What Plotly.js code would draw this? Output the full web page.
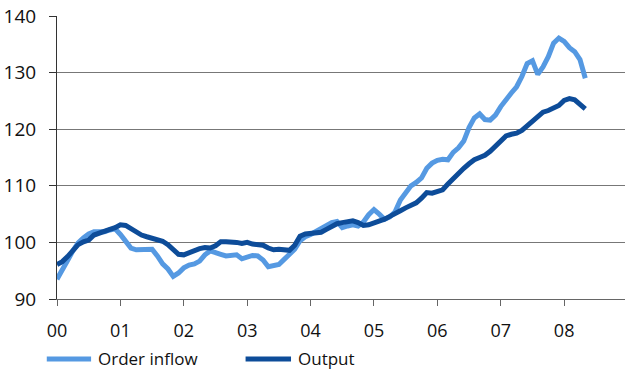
<!DOCTYPE html>
<html>
<head>
<meta charset="utf-8">
<script src="https://cdn.plot.ly/plotly-3.0.1.min.js"></script>
<style>
  html, body { margin: 0; padding: 0; background: #fff; }
  #chart { width: 625px; height: 376px; }
</style>
</head>
<body>
<div id="chart"></div>
<script>
// Monthly index values, January 2000 to May 2008
const startYear = 2000;
const orderInflow = [
  93.5, 95.0, 96.8, 98.5, 99.9, 100.8, 101.5, 101.9, 101.8, 101.9, 102.2, 102.4,
  101.4, 100.3, 99.0, 98.7, 98.7, 98.8, 98.8, 97.6, 96.2, 95.3, 94.0, 94.6,
  95.5, 96.0, 96.2, 96.7, 97.8, 98.5, 98.3, 97.9, 97.6, 97.6, 97.8, 97.1,
  97.5, 97.7, 97.6, 96.9, 95.7, 96.0, 96.1, 97.0, 97.8, 98.8, 100.3, 101.0,
  101.4, 101.9, 102.5, 103.1, 103.5, 103.7, 102.6, 102.9, 103.1, 102.9, 103.6, 104.9,
  105.8, 105.0, 104.1, 104.5, 105.4, 107.5, 108.8, 110.0, 110.6, 111.4, 113.1, 114.0,
  114.5, 114.7, 114.6, 115.9, 116.7, 117.9, 120.3, 122.0, 122.7, 121.7, 121.6, 122.5,
  124.0, 125.3, 126.4, 127.5, 129.3, 131.6, 132.1, 129.7, 131.0, 132.8, 135.2, 136.1,
  135.5, 134.4, 133.7, 132.3, 129.0
];
const output = [
  96.1, 96.6, 97.5, 98.7, 99.6, 100.1, 100.4, 101.3, 101.7, 101.9, 102.3, 102.6,
  103.1, 103.0, 102.4, 101.8, 101.3, 101.0, 100.7, 100.5, 100.2, 99.6, 98.6, 97.9,
  97.8, 98.2, 98.6, 98.9, 99.1, 99.0, 99.4, 100.1, 100.1, 100.1, 100.0, 99.8,
  100.0, 99.7, 99.7, 99.5, 99.0, 98.7, 98.8, 98.7, 98.6, 99.5, 101.1, 101.5,
  101.6, 101.5, 101.8, 102.3, 102.8, 103.3, 103.5, 103.6, 103.8, 103.5, 103.0, 103.1,
  103.4, 103.8, 104.1, 104.6, 105.0, 105.6, 106.1, 106.6, 107.0, 107.8, 108.8, 108.7,
  108.9, 109.3, 110.3, 111.3, 112.2, 113.1, 113.9, 114.6, 115.0, 115.4, 116.1, 117.1,
  118.0, 118.8, 119.1, 119.3, 119.8, 120.6, 121.4, 122.2, 123.0, 123.3, 123.7, 124.2,
  125.1, 125.4, 125.2, 124.5, 123.6
];
const tickYears = [2000, 2001, 2002, 2003, 2004, 2005, 2006, 2007, 2008];
const tickLabels = ['00', '01', '02', '03', '04', '05', '06', '07', '08'];
const seriesNames = ['Order inflow', 'Output'];

const lightBlue = '#5599e2';
const darkBlue = '#0d4c99';

// Month positions as fractional years
const months = orderInflow.map((_, i) => startYear + i / 12);

const traces = [
  {
    x: months, y: orderInflow, name: seriesNames[0], type: 'scatter', mode: 'lines',
    line: { color: lightBlue, width: 5 }, showlegend: false
  },
  {
    x: months, y: output, name: seriesNames[1], type: 'scatter', mode: 'lines',
    line: { color: darkBlue, width: 5 }, showlegend: false
  }
];

const family = '"Open Sans", "Noto Sans", sans-serif';
const font = { family: family, size: 18, color: '#111' };
const legendFont = { family: family, size: 17, color: '#111' };

// Hand-placed legend below the axis
const legY = -0.212;
const shapes = [
  { type: 'line', xref: 'paper', yref: 'paper', x0: -0.018, x1: 0.06, y0: legY, y1: legY,
    line: { color: lightBlue, width: 5 } },
  { type: 'line', xref: 'paper', yref: 'paper', x0: 0.332, x1: 0.412, y0: legY, y1: legY,
    line: { color: darkBlue, width: 5 } }
];
const annotations = [
  { xref: 'paper', yref: 'paper', x: 0.0685, y: legY, xanchor: 'left', yanchor: 'middle',
    text: seriesNames[0], showarrow: false, font: legendFont },
  { xref: 'paper', yref: 'paper', x: 0.42, y: legY, xanchor: 'left', yanchor: 'middle',
    text: seriesNames[1], showarrow: false, font: legendFont }
];

const layout = {
  width: 625, height: 376,
  margin: { l: 57, r: 0, t: 16, b: 77, pad: 0 },
  paper_bgcolor: '#fff', plot_bgcolor: '#fff',
  font: font,
  showlegend: false,
  xaxis: {
    range: [2000, 2008.96],
    tickvals: tickYears, ticktext: tickLabels,
    ticks: 'outside', ticklen: 6, tickcolor: '#666', tickwidth: 1,
    ticklabelstandoff: 9,
    showgrid: false, zeroline: false,
    showline: true, linecolor: '#666', linewidth: 1,
    tickfont: { family: family, size: 18, color: '#111' },
    fixedrange: true
  },
  yaxis: {
    range: [90, 140], dtick: 10, tick0: 90,
    ticks: 'outside', ticklen: 7, tickcolor: '#333', tickwidth: 1,
    ticklabelstandoff: 9,
    showgrid: true, gridcolor: '#777', gridwidth: 1,
    zeroline: false,
    showline: true, linecolor: '#333', linewidth: 1,
    tickfont: { family: family, size: 19, color: '#111' },
    fixedrange: true
  },
  shapes: shapes,
  annotations: annotations
};

Plotly.newPlot('chart', traces, layout, { displayModeBar: false, staticPlot: true });
</script>
</body>
</html>
